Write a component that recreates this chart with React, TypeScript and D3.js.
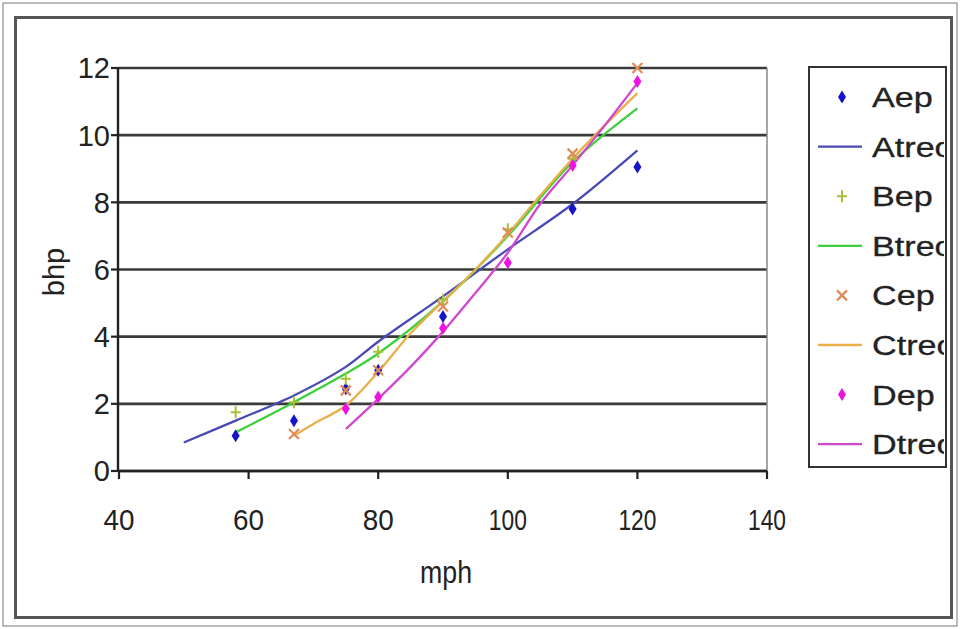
import React from "react";
import * as d3 from "d3";

// ---- data ----
const xTicks = [40, 60, 80, 100, 120, 140];
const yTicks = [0, 2, 4, 6, 8, 10, 12];

const aepX = [58, 67, 75, 80, 90, 110, 120];
const aepY = [1.05, 1.5, 2.45, 3.0, 4.6, 7.8, 9.05];

const bepX = [58, 67, 75, 80, 90, 100, 110];
const bepY = [1.75, 2.05, 2.75, 3.55, 5.1, 7.2, 9.3];

const cepX = [67, 75, 80, 90, 100, 110, 120];
const cepY = [1.1, 2.4, 3.0, 4.9, 7.1, 9.45, 12.0];

const depX = [75, 80, 90, 100, 110, 120];
const depY = [1.85, 2.2, 4.25, 6.2, 9.1, 11.6];

const atreoX = [50, 58, 67, 75, 80, 90, 100, 110, 120];
const atreoY = [0.85, 1.5, 2.25, 3.1, 3.85, 5.2, 6.6, 7.95, 9.55];

const btreoX = [58, 67, 75, 80, 90, 100, 110, 120];
const btreoY = [1.15, 2.05, 2.9, 3.5, 5.05, 7.0, 9.2, 10.8];

const ctreoX = [67, 70, 75, 80, 85, 90, 95, 100, 105, 110, 115, 120];
const ctreoY = [1.05, 1.4, 1.95, 2.95, 4.1, 5.05, 6.0, 7.05, 8.2, 9.3, 10.3, 11.25];

const dtreoX = [75, 80, 85, 90, 95, 100, 105, 110, 115, 120];
const dtreoY = [1.25, 2.15, 3.1, 4.15, 5.3, 6.5, 7.95, 9.1, 10.3, 11.55];

const legendNames = ["Aep", "Atreo", "Bep", "Btreo", "Cep", "Ctreo", "Dep", "Dtreo"];

const colors = {
  aep: "#1414c8",
  atreo: "#4a4ab4",
  bep: "#a8c034",
  btreo: "#3ecf3e",
  cep: "#e08c5a",
  ctreo: "#e8b048",
  dep: "#f012e0",
  dtreo: "#d048d0",
};

const W = 960;
const H = 629;
const FONT = "'Liberation Sans', Arial, sans-serif";

export default function App() {
  const x = d3.scaleLinear().domain([40, 140]).range([119, 767]);
  const y = d3.scaleLinear().domain([0, 12]).range([471, 68]);

  const line = d3
    .line<[number, number]>()
    .x((d) => x(d[0]))
    .y((d) => y(d[1]))
    .curve(d3.curveCatmullRom.alpha(0.5));

  const zip = (xs: number[], ys: number[]) => xs.map((v, i) => [v, ys[i]] as [number, number]);

  const diamond = (cx: number, cy: number, c: string, key: string) => (
    <path key={key} d={`M${cx},${cy - 6.5} L${cx + 4},${cy} L${cx},${cy + 6.5} L${cx - 4},${cy} Z`} fill={c} />
  );
  const plus = (cx: number, cy: number, c: string, key: string) => (
    <path key={key} d={`M${cx - 5},${cy} H${cx + 5} M${cx},${cy - 6} V${cy + 6}`} stroke={c} strokeWidth={2} fill="none" />
  );
  const cross = (cx: number, cy: number, c: string, key: string) => (
    <path key={key} d={`M${cx - 5},${cy - 5} L${cx + 5},${cy + 5} M${cx + 5},${cy - 5} L${cx - 5},${cy + 5}`} stroke={c} strokeWidth={2.2} fill="none" />
  );

  const lineSeries = [
    { xs: atreoX, ys: atreoY, c: colors.atreo },
    { xs: btreoX, ys: btreoY, c: colors.btreo },
    { xs: ctreoX, ys: ctreoY, c: colors.ctreo },
    { xs: dtreoX, ys: dtreoY, c: colors.dtreo },
  ];

  const legendY0 = 97;
  const legendStep = 49.6;

  return (
    <svg width={W} height={H} style={{ position: "absolute", left: 0, top: 0, background: "#fff" }} fontFamily={FONT}>
      <rect x={0} y={0} width={W} height={H} fill="#fff" />
      <rect x={3} y={3} width={954} height={623} fill="none" stroke="#777" strokeWidth={1} />
      <rect x={15.5} y={17.5} width={936} height={600} fill="none" stroke="#555" strokeWidth={3} />

      {/* gridlines */}
      {yTicks.map((t) => (
        <line key={"g" + t} x1={x(40)} x2={x(140)} y1={y(t)} y2={y(t)} stroke="#3a3a3a" strokeWidth={2.6} />
      ))}
      {/* plot border right */}
      <line x1={x(140)} x2={x(140)} y1={y(12)} y2={y(0)} stroke="#888" strokeWidth={1.5} />

      {/* axes */}
      <line x1={x(40) - 1} x2={x(40) - 1} y1={y(12)} y2={y(0)} stroke="#222" strokeWidth={2.4} />
      <line x1={x(40)} x2={x(140)} y1={y(0)} y2={y(0)} stroke="#222" strokeWidth={2.4} />
      {yTicks.map((t) => (
        <g key={"yt" + t}>
          <line x1={x(40) - 8} x2={x(40)} y1={y(t)} y2={y(t)} stroke="#222" strokeWidth={2.2} />
          <text x={110} y={y(t)} dy="0.36em" textAnchor="end" fontSize={29} fill="#222">
            {t}
          </text>
        </g>
      ))}
      {xTicks.map((t) => (
        <g key={"xt" + t}>
          <line x1={x(t)} x2={x(t)} y1={y(0)} y2={y(0) + 8} stroke="#222" strokeWidth={2.2} />
          <text
            x={x(t)}
            y={530}
            textAnchor="middle"
            fontSize={30}
            fill="#222"
            textLength={String(t).length === 3 ? 38 : 31}
            lengthAdjust="spacingAndGlyphs"
          >
            {t}
          </text>
        </g>
      ))}
      <text x={446} y={583} textAnchor="middle" fontSize={31} fill="#222" textLength={52} lengthAdjust="spacingAndGlyphs">
        mph
      </text>
      <text transform="translate(64,272) rotate(-90)" textAnchor="middle" fontSize={29} fill="#222">
        bhp
      </text>

      {/* theory lines */}
      {lineSeries.map((s, i) => (
        <path key={"l" + i} d={line(zip(s.xs, s.ys)) || ""} fill="none" stroke={s.c} strokeWidth={2.3} />
      ))}

      {/* experimental points */}
      {aepX.map((v, i) => diamond(x(v), y(aepY[i]), colors.aep, "a" + i))}
      {bepX.map((v, i) => plus(x(v), y(bepY[i]), colors.bep, "b" + i))}
      {cepX.map((v, i) => cross(x(v), y(cepY[i]), colors.cep, "c" + i))}
      {depX.map((v, i) => diamond(x(v), y(depY[i]), colors.dep, "d" + i))}

      {/* legend */}
      <rect x={809} y={67} width={137} height={400} fill="#fff" stroke="#333" strokeWidth={2} />
      <svg x={809} y={67} width={135} height={400} overflow="hidden">
        {legendNames.map((n, i) => {
          const cy = legendY0 + legendStep * i - 67;
          const cx = 842 - 809;
          let marker: React.ReactNode = null;
          if (n === "Aep") marker = diamond(cx, cy, colors.aep, "m");
          else if (n === "Bep") marker = plus(cx, cy, colors.bep, "m");
          else if (n === "Cep") marker = cross(cx, cy, colors.cep, "m");
          else if (n === "Dep") marker = diamond(cx, cy, colors.dep, "m");
          else {
            const c = n === "Atreo" ? colors.atreo : n === "Btreo" ? colors.btreo : n === "Ctreo" ? colors.ctreo : colors.dtreo;
            marker = <line x1={818 - 809} x2={862 - 809} y1={cy} y2={cy} stroke={c} strokeWidth={2.3} />;
          }
          return (
            <g key={n}>
              {marker}
              <text
                transform={`translate(${872 - 809},${cy}) scale(1.22,1)`}
                dy="0.36em"
                fontSize={28}
                fill="#222"
                stroke="#222"
                strokeWidth={0.3}
              >
                {n}
              </text>
            </g>
          );
        })}
      </svg>
    </svg>
  );
}
